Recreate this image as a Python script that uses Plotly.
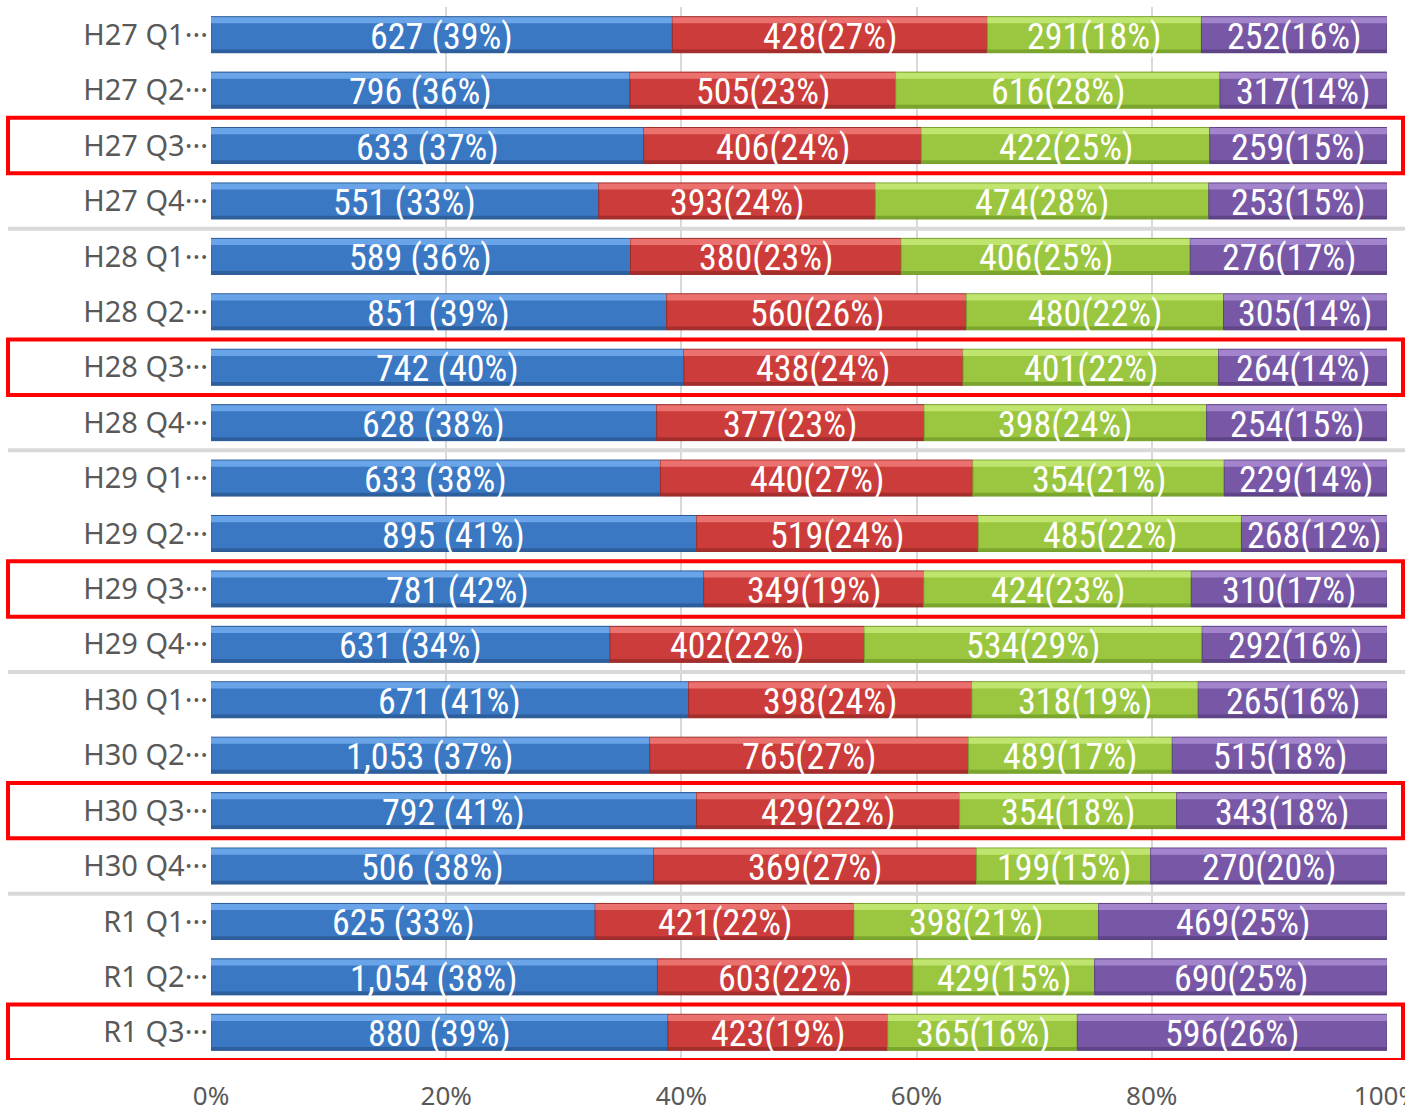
import plotly.graph_objects as go

# Quarterly counts by category (H27 Q1 .. R1 Q3)
quarters = ["H27 Q1", "H27 Q2", "H27 Q3", "H27 Q4",
            "H28 Q1", "H28 Q2", "H28 Q3", "H28 Q4",
            "H29 Q1", "H29 Q2", "H29 Q3", "H29 Q4",
            "H30 Q1", "H30 Q2", "H30 Q3", "H30 Q4",
            "R1 Q1", "R1 Q2", "R1 Q3"]
series_a = [627, 796, 633, 551, 589, 851, 742, 628, 633, 895, 781, 631, 671, 1053, 792, 506, 625, 1054, 880]
series_b = [428, 505, 406, 393, 380, 560, 438, 377, 440, 519, 349, 402, 398, 765, 429, 369, 421, 603, 423]
series_c = [291, 616, 422, 474, 406, 480, 401, 398, 354, 485, 424, 534, 318, 489, 354, 199, 398, 429, 365]
series_d = [252, 317, 259, 253, 276, 305, 264, 254, 229, 268, 310, 292, 265, 515, 343, 270, 469, 690, 596]
highlighted_rows = ["H27 Q3", "H28 Q3", "H29 Q3", "H30 Q3", "R1 Q3"]
year_breaks_after = ["H27 Q4", "H28 Q4", "H29 Q4", "H30 Q4"]
x_ticks = [0, 20, 40, 60, 80, 100]
x_tick_text = ["0%", "20%", "40%", "60%", "80%", "100%"]

labels = [q + "\u00b7\u00b7\u00b7" for q in quarters]
series = [series_a, series_b, series_c, series_d]
# (main fill, top highlight, bottom shade)
palettes = [
    ("#3b78c3", "#72acee", "#2b5a96"),
    ("#cc3c3a", "#f07a78", "#9c2c2a"),
    ("#9ac73f", "#c6ea78", "#76a02c"),
    ("#7858a6", "#a98cd3", "#5b4182"),
]

totals = [sum(vals) for vals in zip(*series)]
shares = [[v / t * 100 for v, t in zip(s, totals)] for s in series]
bases = []
running = [0.0] * len(quarters)
for sh in shares:
    bases.append(running[:])
    running = [r + x for r, x in zip(running, sh)]

BAR_W = 0.65
fig = go.Figure()
annotations = []

for k, (sh, base, (main, light, dark)) in enumerate(zip(shares, bases, palettes)):
    fig.add_trace(go.Bar(
        y=labels, x=sh, base=base, orientation="h",
        width=BAR_W, offset=-BAR_W / 2,
        marker=dict(color=main, line=dict(color=dark, width=1)),
        hoverinfo="skip", showlegend=False))
    fig.add_trace(go.Bar(
        y=labels, x=sh, base=base, orientation="h",
        width=0.11, offset=-BAR_W / 2 + 0.01,
        marker=dict(color=light, line=dict(width=0), opacity=0.85),
        hoverinfo="skip", showlegend=False))
    fig.add_trace(go.Bar(
        y=labels, x=sh, base=base, orientation="h",
        width=0.06, offset=BAR_W / 2 - 0.06,
        marker=dict(color=dark, line=dict(width=0), opacity=0.85),
        hoverinfo="skip", showlegend=False))

    # value labels centred in each segment
    for lab, v, p, b in zip(labels, series[k], sh, base):
        pct = round(p)
        txt = f"{v:,} ({pct}%)" if k == 0 else f"{v:,}({pct}%)"
        annotations.append(dict(
            x=b + p / 2, y=lab, xref="x", yref="y", text=txt,
            showarrow=False, yshift=-2, xanchor="center", yanchor="middle",
            font=dict(family="Roboto Condensed, Roboto, Noto Sans",
                      size=36, color="white")))

shapes = []
for q in year_breaks_after:
    i = quarters.index(q)
    shapes.append(dict(type="line", xref="paper", yref="y",
                       x0=-0.1726, x1=1.0153, y0=i + 0.5, y1=i + 0.5,
                       line=dict(color="#d9d9d9", width=4), layer="below"))
for q in highlighted_rows:
    i = quarters.index(q)
    shapes.append(dict(type="rect", xref="paper", yref="y",
                       x0=-0.1726, x1=1.0136, y0=i - 0.5, y1=i + 0.5,
                       line=dict(color="#ff0000", width=4), layer="above"))

fig.update_layout(
    width=1405, height=1113,
    margin=dict(l=211, r=18, t=7, b=53),
    paper_bgcolor="white", plot_bgcolor="white",
    barmode="overlay",
    shapes=shapes,
    annotations=annotations,
    xaxis=dict(range=[0, 100.01], tickmode="array",
               tickvals=x_ticks, ticktext=x_tick_text,
               showgrid=True, gridcolor="#d9d9d9", gridwidth=2,
               zeroline=False, showline=False, automargin=False,
               ticks="outside", ticklen=13, tickcolor="rgba(0,0,0,0)",
               ticklabeloverflow="allow",
               tickfont=dict(family="Noto Sans", size=26, color="#595959")),
    yaxis=dict(categoryorder="array", categoryarray=labels,
               range=[len(labels) - 0.5, -0.5], automargin=False,
               showgrid=False, zeroline=False, showline=False,
               ticks="", ticklabelstandoff=2,
               tickfont=dict(family="Noto Sans", size=29, color="#595959")),
)

fig.write_html("out.html")
